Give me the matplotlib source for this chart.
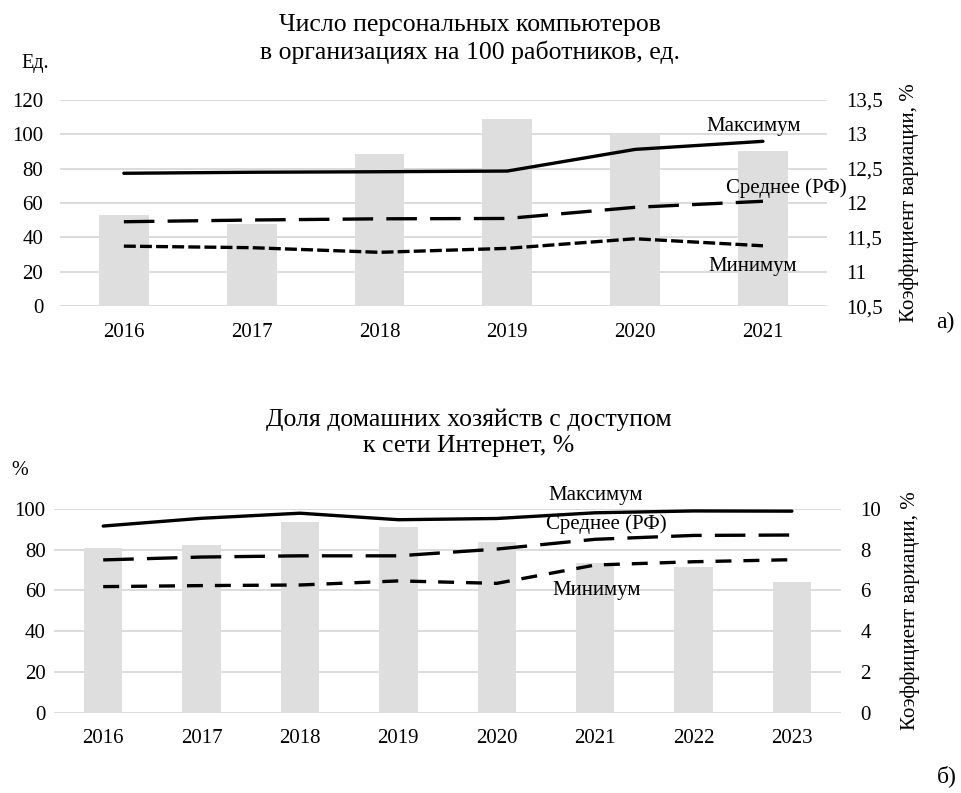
import matplotlib
matplotlib.use("Agg")
import matplotlib.pyplot as plt

plt.rcParams['font.family'] = ['Liberation Serif', 'DejaVu Serif']
plt.rcParams['lines.scale_dashes'] = False

# --- panel a: PCs per 100 employees ---
years_a = ['2016', '2017', '2018', '2019', '2020', '2021']
cv_a = [11.83, 11.69, 12.72, 13.22, 13.01, 12.76]      # coefficient of variation, %
max_a = [77.3, 77.9, 78.2, 78.6, 91.2, 95.9]
mean_a = [49.1, 50.1, 50.8, 51.0, 57.5, 61.0]
min_a = [34.9, 34.0, 31.3, 33.6, 39.2, 35.1]

# --- panel b: households with internet access ---
years_b = ['2016', '2017', '2018', '2019', '2020', '2021', '2022', '2023']
cv_b = [8.09, 8.22, 9.35, 9.12, 8.38, 7.35, 7.16, 6.41]
max_b = [91.5, 95.3, 97.8, 94.6, 95.2, 98.0, 98.9, 98.8]
mean_b = [74.9, 76.3, 76.9, 76.9, 80.2, 85.0, 86.9, 87.1]
min_b = [61.8, 62.3, 62.6, 64.6, 63.4, 72.4, 74.0, 75.0]

grid_col = '#d9d9d9'
bar_col = '#dedede'
fs = 15

fig = plt.figure(figsize=(9.61, 7.93), dpi=100)


def panel(rect, years, cv, mx, mn_, av, ylim_l, yticks_l, ylim_r, yticks_r, rlabels,
          short_dash, labels_pos):
    ax = fig.add_axes(rect)
    ax2 = ax.twinx()
    x = list(range(len(years)))
    ax2.bar(x, cv, width=0.39, color=bar_col, zorder=2)
    ax2.set_ylim(*ylim_r)
    ax2.set_yticks(yticks_r)
    ax2.set_yticklabels(rlabels, fontsize=fs)
    ax2.grid(axis='y', color=grid_col, linewidth=1.3, zorder=0)
    ax2.set_axisbelow(True)

    ax.plot(x, mx, color='black', lw=2.4, solid_capstyle='round')
    ax.plot(x, av, color='black', lw=2.4, dashes=(22, 9.5))
    ax.plot(x, mn_, color='black', lw=2.4, dashes=short_dash)
    ax.set_ylim(*ylim_l)
    ax.set_yticks(yticks_l)
    ax.set_xlim(-0.5, len(years) - 0.5)
    ax.set_xticks(x)
    ax.set_xticklabels(years)
    ax.set_zorder(ax2.get_zorder() + 1)
    ax.patch.set_visible(False)

    for a in (ax, ax2):
        for s in a.spines.values():
            s.set_visible(False)
    ax.tick_params(axis='both', length=0, labelsize=fs)
    ax.tick_params(axis='y', pad=12)
    ax.tick_params(axis='x', pad=12)
    ax2.tick_params(axis='y', length=0, pad=14)

    for txt, (tx, ty) in zip(['Максимум', 'Среднее (РФ)', 'Минимум'], labels_pos):
        ax.text(tx, ty, txt, ha='center', va='center', fontsize=fs)
    return ax, ax2


ax_a, ax2_a = panel([0.0624, 0.614, 0.798, 0.26], years_a, cv_a, max_a, min_a, mean_a,
                    (0, 120), range(0, 121, 20), (10.5, 13.5),
                    [10.5, 11, 11.5, 12, 12.5, 13, 13.5],
                    ['10,5', '11', '11,5', '12', '12,5', '13', '13,5'],
                    (8.6, 3.0), [(4.93, 104.8), (5.18, 68.7), (4.92, 23.3)])
ax2_a.set_ylabel('Коэффициент вариации, %', fontsize=fs, labelpad=12)

ax_b, ax2_b = panel([0.0562, 0.1013, 0.819, 0.2572], years_b, cv_b, max_b, min_b, mean_b,
                    (0, 100), range(0, 101, 20), (0, 10),
                    [0, 2, 4, 6, 8, 10], ['0', '2', '4', '6', '8', '10'],
                    (11.5, 8.6), [(5.01, 106.7), (5.11, 92.5), (5.02, 59.7)])
ax_b.tick_params(axis='y', pad=6)
ax2_b.set_ylabel('Коэффициент вариации, %', fontsize=fs, labelpad=14)

# titles and unit labels
fig.text(0.489, 0.951, 'Число персональных компьютеров\nв организациях на 100 работников, ед.',
         ha='center', va='center', fontsize=18.5, linespacing=1.25)
fig.text(0.037, 0.92, 'Ед.', ha='center', va='center', fontsize=14.5)
fig.text(0.984, 0.593, 'а)', ha='center', va='center', fontsize=17)

fig.text(0.488, 0.4546, 'Доля домашних хозяйств с доступом\nк сети Интернет, %',
         ha='center', va='center', fontsize=18.5, linespacing=1.25)
fig.text(0.021, 0.407, '%', ha='center', va='center', fontsize=14.5)
fig.text(0.985, 0.021, 'б)', ha='center', va='center', fontsize=17)

fig.savefig('out.png', dpi=100)
